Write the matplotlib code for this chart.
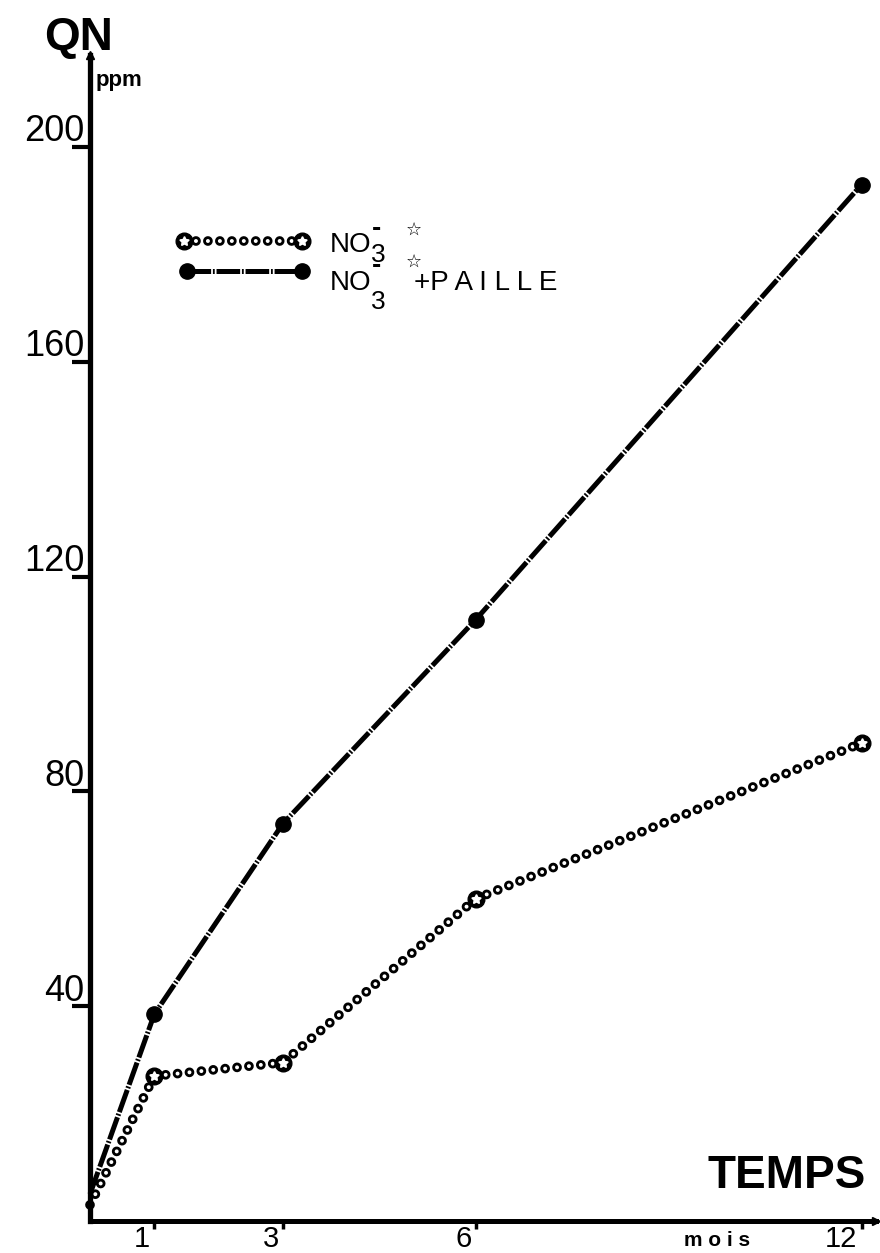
import matplotlib
matplotlib.use("Agg")
import matplotlib.pyplot as plt

plt.rcParams['font.family'] = ['Liberation Sans', 'DejaVu Sans']
plt.rcParams['lines.scale_dashes'] = False

# data (QN in ppm against time in months)
months = [0, 1, 3, 6, 12]
qn_no3 = [3, 27, 29.5, 60, 89]
qn_paille = [5, 38.5, 74, 112, 193]

y_ticks = [40, 80, 120, 160, 200]
x_ticks = [1, 3, 6, 12]

W, H = 880, 1253
fig = plt.figure(figsize=(W / 100, H / 100), dpi=100)


def fx(x):
    return x / W


def fy(y):
    return 1 - y / H


ax = fig.add_axes([fx(90), fy(1221), (876 - 90) / W, (1221 - 55) / H])
ax.set_xlim(0, (876 - 90) / 64.3)
ax.set_ylim(0, (1221 - 55) / 5.37)

for s in ['top', 'right']:
    ax.spines[s].set_visible(False)
ax.spines['left'].set_linewidth(3.8)
ax.spines['bottom'].set_linewidth(3.6)
ax.plot(0, 1, marker='^', color='black', ms=6, transform=ax.transAxes, clip_on=False)
ax.plot(1, 0, marker='>', color='black', ms=6, transform=ax.transAxes, clip_on=False)

RING = (0, (0.01, 8.6))
DASH = (0, (17, 1.3, 1.3, 1.3))


def chain(xs, ys, **kw):
    # ring chain: black dots with white holes on the same dash pattern
    ax.plot(xs, ys, color='black', lw=7.0, ls=RING, dash_capstyle='round', clip_on=False, **kw)
    ax.plot(xs, ys, color='white', lw=2.9, ls=RING, dash_capstyle='round', clip_on=False, **kw)


def dashed(xs, ys, **kw):
    ax.plot(xs, ys, color='black', lw=3.6, ls=DASH, dash_capstyle='butt', clip_on=False, **kw)


# NO3 + paille
dashed(months, qn_paille)
ax.plot(months[1:], qn_paille[1:], 'o', color='black', ms=11, clip_on=False)

# NO3 alone
chain(months, qn_no3)
ax.plot(months[1:], qn_no3[1:], 'o', color='black', ms=12, clip_on=False)
ax.plot(months[1:], qn_no3[1:], marker=(5, 1, 0), ls='none', color='white', ms=7, clip_on=False)

# ticks
ax.set_yticks(y_ticks)
ax.set_xticks(x_ticks)
ax.tick_params(axis='y', direction='out', length=13, width=3, labelleft=False)
ax.tick_params(axis='x', direction='out', length=6, width=2.5, labelbottom=False)
for v in y_ticks:
    ax.annotate(str(v), xy=(0, v), xytext=(-4, 4), textcoords='offset points',
                ha='right', va='baseline', fontsize=26, annotation_clip=False)
for m in x_ticks:
    ax.annotate(str(m), xy=(m, 0), xytext=(-3, -3), textcoords='offset points',
                ha='right', va='top', fontsize=21, annotation_clip=False)

# axis titles
fig.text(fx(44), fy(50), 'QN', fontsize=33, fontweight='bold', va='baseline')
fig.text(fx(96), fy(86), 'ppm', fontsize=16, fontweight='bold', va='baseline')
fig.text(fx(866), fy(1188), 'TEMPS', fontsize=33, fontweight='bold', ha='right', va='baseline')
fig.text(fx(684), fy(1246), 'm o i s', fontsize=15, fontweight='bold', va='baseline')

# legend
tf = fig.transFigure
lx = [fx(184), fx(302)]
ax.plot(lx, [fy(241)] * 2, color='black', lw=7.0, ls=RING, dash_capstyle='round',
        transform=tf, clip_on=False)
ax.plot(lx, [fy(241)] * 2, color='white', lw=2.9, ls=RING, dash_capstyle='round',
        transform=tf, clip_on=False)
ax.plot(lx, [fy(241)] * 2, 'o', color='black', ms=12, ls='none', transform=tf, clip_on=False)
ax.plot(lx, [fy(241)] * 2, marker=(5, 1, 0), ls='none', color='white', ms=7,
        transform=tf, clip_on=False)

lx2 = [fx(187), fx(302)]
ax.plot(lx2, [fy(271)] * 2, color='black', lw=3.6, ls=DASH, transform=tf, clip_on=False)
ax.plot(lx2, [fy(271)] * 2, 'o', color='black', ms=11, ls='none', transform=tf, clip_on=False)

for base, sub, minus, star in [(252, 262, 236, 230), (290, 309, 273, 262)]:
    fig.text(fx(330), fy(base), 'NO', fontsize=20, va='baseline')
    fig.text(fx(371), fy(sub), '3', fontsize=19, va='baseline')
    fig.text(fx(372), fy(minus), '-', fontsize=20, fontweight='bold', va='baseline')
    fig.text(fx(406), fy(star), '☆', fontsize=13, family='DejaVu Sans', va='center')
fig.text(fx(414), fy(290), '+P A I L L E', fontsize=20, va='baseline')

fig.savefig('out.png', dpi=100)
